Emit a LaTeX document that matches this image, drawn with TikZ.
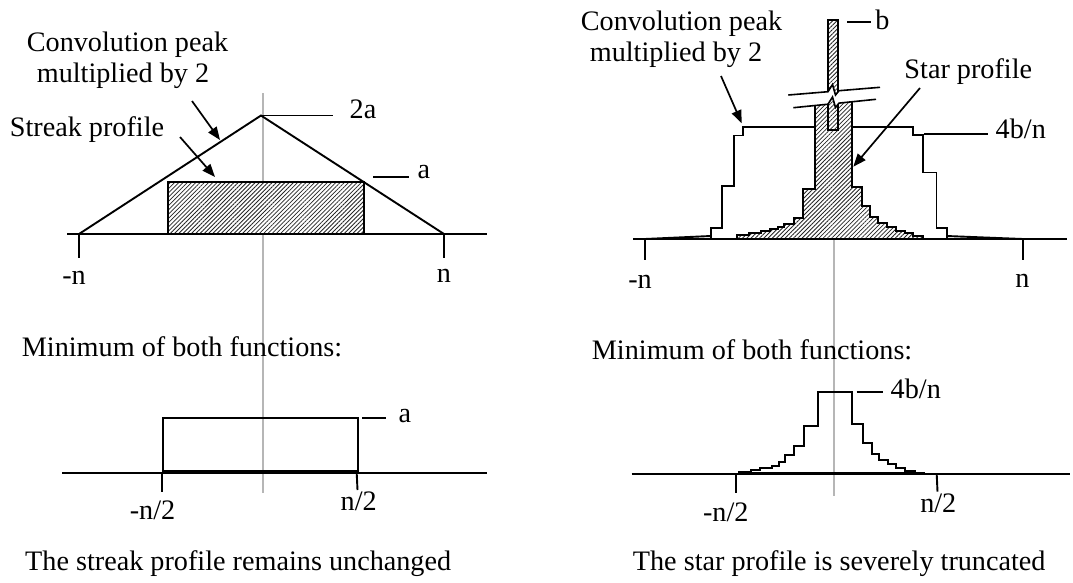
\documentclass[tikz,border=0pt]{standalone}
\usepackage{fontspec}
\setmainfont{Liberation Serif}
\usetikzlibrary{arrows.meta,patterns.meta}
\definecolor{axisgray}{RGB}{182,182,182}
\tikzset{
  ln/.style={line width=1.9pt, line join=miter},
  centerline/.style={line width=1.2pt, draw=axisgray},
  hatch/.style={preaction={fill=white}, pattern={Lines[angle=45,distance=3pt,line width=0.8pt]}, pattern color=black!85},
  lbl/.style={inner sep=0pt, anchor=base, font=\fontsize{28.2}{31.5}\selectfont},
  lblw/.style={lbl, anchor=base west},
  ptr/.style={line width=1.7pt, -{Triangle[length=13pt,width=10pt]}},
}
\begin{document}
\begin{tikzpicture}[x=1pt,y=-1pt]
\useasboundingbox (0,0) rectangle (1073,582);

% ================= LEFT, TOP =================
\draw[centerline] (263,93) -- (263,493);
\draw[ln] (67,234) -- (487,234);
\draw[ln] (79,234) -- (79,258);
\draw[ln] (444,234) -- (444,258);
\draw[ln,hatch] (168,182) rectangle (364,234);
\coordinate (tL) at (79,234);
\coordinate (tP) at (261,115.5);
\coordinate (tR) at (444,234);
\draw[ln] (tL) -- (tP) -- (tR);
\node[lbl] (l2a) at (363,118.3) {2a};
\coordinate (l2aend) at (333,115.5);
\draw[ln] (tP) -- (l2aend);
\node[lbl] (la) at (424,178.3) {a};
\coordinate (laS) at (373,177);
\coordinate (laE) at (409,177);
\draw[ln] (laS) -- (laE);
\node[lbl] (lmn) at (74,284) {-n};
\node[lbl] (ln) at (444,282.7) {n};
\node[lbl] (lconv1) at (127.5,51.7) {Convolution peak};
\node[lbl] (lconv2) at (123,82.7) {multiplied by 2};
\node[lbl] (lstreak) at (87,136.5) {Streak profile};
\coordinate (lca) at (192,101);
\coordinate (lcb) at (220,140);
\draw[ptr] (lca) -- (lcb);
\coordinate (lsa) at (180,137);
\coordinate (lsb) at (215,177);
\draw[ptr] (lsa) -- (lsb);

% ================= LEFT, BOTTOM =================
\node[lblw] (lmin) at (21.7,356.7) {Minimum of both functions:};
\draw[ln] (62,473) -- (487,473);
\draw[ln] (163,418) rectangle (358,471);
\draw[ln] (162.3,473) -- (162.3,492);
\draw[ln] (356.7,473) -- (357.5,490);
\coordinate (lbaS) at (362,418);
\coordinate (lbaE) at (386,418);
\draw[ln] (lbaS) -- (lbaE);
\node[lbl] (lba) at (405,422.7) {a};
\node[lbl] (lbmn) at (152.5,519) {-n/2};
\node[lbl] (lbn) at (358.7,510.7) {n/2};
\node[lblw] (lcap) at (25,570) {The streak profile remains unchanged};

% ================= RIGHT, TOP =================
\draw[centerline] (834,239) -- (834,496);
\draw[ln] (633,239) -- (1067,239);
\draw[ln] (645,239) -- (645,260);
\draw[ln] (1023,239) -- (1023,260);
% convolution peak (staircase)
\draw[ln] (645,239) -- (710.7,236);
\draw[ln] (1023,239) -- (946.7,236);
\draw[ln] (710.7,239) -- (710.7,227.7) -- (721.7,227.7) -- (721.7,185.7) -- (734.3,185.7)
  -- (734.3,135.5) -- (743.3,135.5) -- (743.3,127) -- (912.7,127) -- (912.7,135)
  -- (923,135) -- (923,172.5) -- (936.5,172.5) -- (936.5,227.7) -- (946.7,227.7) -- (946.7,239);
% star profile
\draw[ln,hatch] (737.3,239) -- (737.3,235) -- (749.3,235) -- (749.3,233.3) -- (760.7,233.3)
  -- (760.7,231) -- (770,231) -- (770,229) -- (778.3,229) -- (778.3,226.7) -- (784.3,226.7)
  -- (784.3,224) -- (794,224) -- (794,218.3) -- (803.3,218.3) -- (803.3,209) -- (803.3,189.3)
  -- (815,189.3) -- (815,95) -- (851.7,95) -- (851.7,187.3) -- (861.7,187.3) -- (861.7,206)
  -- (870,206) -- (870,216.7) -- (878.3,216.7) -- (878.3,222.7) -- (886.7,222.7) -- (886.7,227.3)
  -- (896,227.3) -- (896,230.7) -- (905,230.7) -- (905,233.3) -- (913.3,233.3) -- (913.3,236)
  -- (922.7,236) -- (922.7,239) -- cycle;
% narrow tall peak
\draw[ln,hatch] (828.3,20) rectangle (837.7,130);
% break symbol
\fill[white] (788.3,95) -- (828,91.7) -- (832.5,84.5) -- (835.5,95) -- (839,90.7) -- (880,87.3)
  -- (876,99.3) -- (839,103.1) -- (835.5,107.5) -- (832.5,97) -- (828,104.2) -- (793.3,107.7) -- cycle;
\draw[line width=1.6pt] (788.3,95) -- (828,91.7) -- (832.5,84.5) -- (835.5,95) -- (839,90.7) -- (880,87.3);
\draw[line width=1.6pt] (793.3,107.7) -- (828,104.2) -- (832.5,97) -- (835.5,107.5) -- (839,103.1) -- (876,99.3);
% labels
\coordinate (rbS) at (847.3,22.3);
\coordinate (rbE) at (871,22.3);
\draw[ln] (rbS) -- (rbE);
\node[lbl] (rb) at (882.5,29.3) {b};
\coordinate (r4S) at (924.3,134);
\coordinate (r4E) at (988.3,134);
\draw[ln] (r4S) -- (r4E);
\node[lbl] (r4bn) at (1020.8,138.3) {4b/n};
\node[lbl] (rmn) at (640,288.3) {-n};
\node[lbl] (rn) at (1022.5,287.3) {n};
\node[lbl] (rconv1) at (681.5,30.7) {Convolution peak};
\node[lbl] (rconv2) at (676,61.7) {multiplied by 2};
\node[lbl] (rstar) at (968.3,78.3) {Star profile};
\coordinate (rca) at (721,76);
\coordinate (rcb) at (741.7,123.3);
\draw[ptr] (rca) -- (rcb);
\coordinate (rsa) at (920,88);
\coordinate (rsb) at (853.3,166.7);
\draw[ptr] (rsa) -- (rsb);

% ================= RIGHT, BOTTOM =================
\node[lblw] (rmin) at (591.7,359.3) {Minimum of both functions:};
\draw[ln] (631.7,474.3) -- (1070,474.3);
\draw[ln] (739,473) -- (739,471.7) -- (750.7,471.7) -- (750.7,470) -- (760,470) -- (760,467.7)
  -- (771.7,467.7) -- (771.7,465.7) -- (779.3,465.7) -- (779.3,461.7) -- (785,461.7) -- (785,455)
  -- (794.3,455) -- (794.3,445.7) -- (804,445.7) -- (804,426) -- (817.7,426) -- (817.7,391.7)
  -- (851.7,391.7) -- (851.7,424) -- (863.3,424) -- (863.3,443.3) -- (871.7,443.3) -- (871.7,454)
  -- (879.3,454) -- (879.3,460) -- (887.7,460) -- (887.7,464) -- (896,464) -- (896,467.7)
  -- (905,467.7) -- (905,470.7) -- (915,470.7) -- (915,472.7) -- (924.3,472.7) -- (924.3,473) -- cycle;
\draw[ln] (735.7,474) -- (735.7,492.7);
\draw[ln] (936.7,474) -- (937.5,491.7);
\coordinate (rb4S) at (856.7,391.7);
\coordinate (rb4E) at (883.3,391.7);
\draw[ln] (rb4S) -- (rb4E);
\node[lbl] (rb4bn) at (915.8,398.3) {4b/n};
\node[lbl] (rbmn) at (725.8,521.7) {-n/2};
\node[lbl] (rbn) at (938.3,512.3) {n/2};
\node[lbl] (rcap) at (839.2,570) {The star profile is severely truncated};
\end{tikzpicture}
\end{document}
